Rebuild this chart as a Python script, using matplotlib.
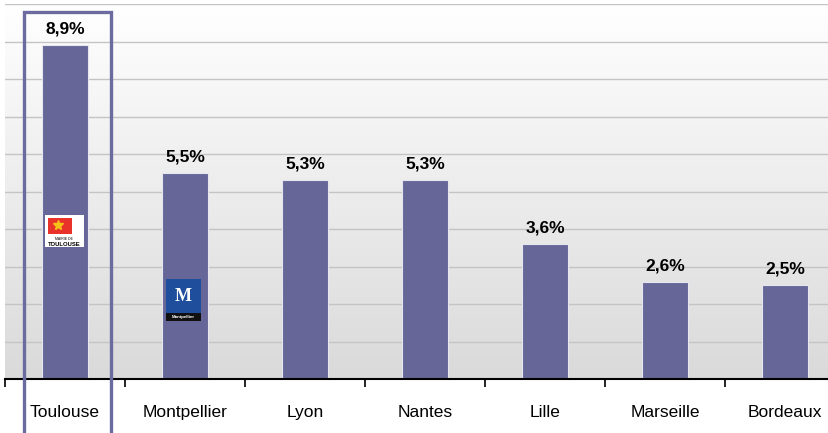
import numpy as np
import matplotlib
matplotlib.use('Agg')
import matplotlib.pyplot as plt
from matplotlib.patches import Rectangle

plt.rcParams['font.family'] = ['Liberation Sans', 'DejaVu Sans']

# data
villes = ['Toulouse', 'Montpellier', 'Lyon', 'Nantes', 'Lille', 'Marseille', 'Bordeaux']
valeurs = [8.9, 5.5, 5.3, 5.3, 3.6, 2.6, 2.5]
etiquettes = ['8,9%', '5,5%', '5,3%', '5,3%', '3,6%', '2,6%', '2,5%']

bar_color = '#666699'

fig = plt.figure(figsize=(8.29, 4.33), dpi=100)
ax = fig.add_axes([5 / 829, 54 / 433, 824 / 829, 375 / 433])

x = np.arange(len(villes))

# gradient background white -> light grey
grad = np.linspace(0, 1, 256).reshape(-1, 1)
ax.imshow(grad, cmap=matplotlib.colors.LinearSegmentedColormap.from_list('g', ['#dadada', '#ffffff']),
          extent=[-0.5, 7, 0, 10], aspect='auto', origin='lower', zorder=0)

ax.set_yticks(np.arange(0, 11, 1))
ax.yaxis.grid(True, color='#c4c4c4', linewidth=1.0, zorder=1)
ax.tick_params(axis='y', left=False, labelleft=False)

bars = ax.bar(x, valeurs, width=0.39, color=bar_color, edgecolor='#e6e6ee',
              linewidth=0.8, zorder=3)

for xi, v, lab in zip(x, valeurs, etiquettes):
    ax.annotate(lab, (xi, v), xytext=(0, 6), textcoords='offset points',
                ha='center', va='bottom', fontsize=12.5, fontweight='bold', zorder=5)

# category axis: ticks between categories
ax.set_xticks(x)
ax.set_xticklabels(villes, fontsize=12.5)
ax.set_xticks(np.arange(-0.5, 7, 1), minor=True)
ax.tick_params(axis='x', which='major', length=0, pad=19)
ax.tick_params(axis='x', which='minor', length=6, width=1.2, direction='out', color='black')

ax.set_xlim(-0.5, -0.5 + 824 / 120)
ax.set_ylim(0, 10)

for s in ['top', 'right', 'left']:
    ax.spines[s].set_visible(False)
ax.spines['bottom'].set_linewidth(1.5)
ax.spines['bottom'].set_zorder(4)

# highlight frame around Toulouse
ax.add_patch(Rectangle((-0.342, -1.8), 0.725, 9.787 + 1.8, fill=False,
                       edgecolor='#6b6ba0', linewidth=2.4, clip_on=False, zorder=6))

# Toulouse logo (approximation)
ax.add_patch(Rectangle((-0.17, 3.52), 0.325, 0.85, facecolor='white', edgecolor='none', zorder=4))
ax.add_patch(Rectangle((-0.14, 3.88), 0.2, 0.42, facecolor='#e8322a', edgecolor='none', zorder=4))
ax.plot(-0.06, 4.1, marker='*', color='#f6c21a', markersize=7, zorder=5)
ax.text(-0.01, 3.74, 'MAIRIE DE', fontsize=2.5, ha='center', va='center', zorder=5)
ax.text(-0.01, 3.6, 'TOULOUSE', fontsize=4.2, fontweight='bold', ha='center', va='center', zorder=5)

# Montpellier logo (approximation)
ax.add_patch(Rectangle((0.84, 1.55), 0.29, 1.12, facecolor='#1f4e9c', edgecolor='none', zorder=4))
ax.add_patch(Rectangle((0.84, 1.55), 0.29, 0.22, facecolor='#111111', edgecolor='none', zorder=4))
ax.text(0.985, 2.2, 'M', fontsize=13, fontweight='bold', family='Liberation Serif',
        color='white', ha='center', va='center', zorder=5)
ax.text(0.985, 1.66, 'Montpellier', fontsize=3.2, fontweight='bold', color='white',
        ha='center', va='center', zorder=5)

fig.savefig('out.png', dpi=100)
